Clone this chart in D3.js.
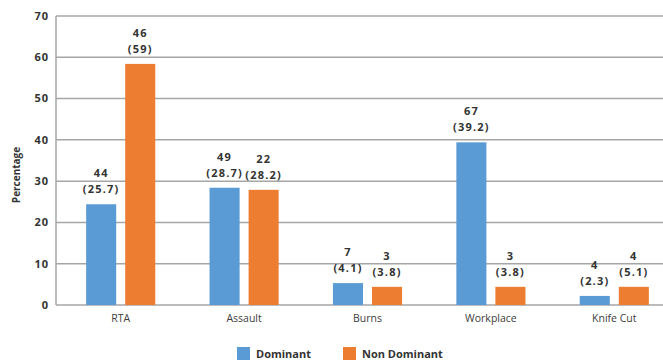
<!DOCTYPE html>
<meta charset="utf-8">
<script src="https://d3js.org/d3.v7.min.js"></script>
<style>
  body { margin: 0; background: #fff; }
  text { font-family: "Open Sans", sans-serif; fill: #333; }
</style>
<body>
<svg width="663" height="361"></svg>
<script>
    // categories and series
    var categories = ["RTA", "Assault", "Burns", "Workplace", "Knife Cut"];
    var seriesNames = ["Dominant", "Non Dominant"];
    // bar heights as drawn (percentage)
    var dominantVals    = [24.4, 28.4, 5.3, 39.4, 2.2];
    var nonDominantVals = [58.4, 27.9, 4.4, 4.4, 4.4];
    // label texts: counts and (percent)
    var dominantCounts    = ["44", "49", "7", "67", "4"];
    var dominantPcts      = ["(25.7)", "(28.7)", "(4.1)", "(39.2)", "(2.3)"];
    var nonDominantCounts = ["46", "22", "3", "3", "4"];
    var nonDominantPcts   = ["(59)", "(28.2)", "(3.8)", "(3.8)", "(5.1)"];
    var yTicks = [0, 10, 20, 30, 40, 50, 60, 70];
    var colors = ["#5b9bd5", "#ed7d31"];

    var svg = d3.select("svg");
    var W = 663;

    var y  = d3.scaleLinear().domain([0, 70]).range([305, 16]);
    var x0 = d3.scaleBand().domain(categories).range([59, 676]).paddingInner(0.44).paddingOuter(0.22);
    var x1 = d3.scaleBand().domain(seriesNames).range([0, x0.bandwidth()]).paddingInner(0.23);
    var color = d3.scaleOrdinal().domain(seriesNames).range(colors);

    // gridlines
    svg.append("g").selectAll("line").data(yTicks).enter().append("line")
        .attr("x1", 56).attr("x2", W)
        .attr("y1", function(d){ return y(d); }).attr("y2", function(d){ return y(d); })
        .attr("stroke", "#a6a6a6").attr("stroke-width", 1.5);

    // left axis line
    svg.append("line").attr("x1", 56).attr("x2", 56).attr("y1", y(70)).attr("y2", y(0))
        .attr("stroke", "#a6a6a6").attr("stroke-width", 1.5);

    // y tick labels
    svg.append("g").selectAll("text").data(yTicks).enter().append("text")
        .attr("x", 49).attr("y", function(d){ return y(d); })
        .attr("dy", "0.35em").attr("text-anchor", "end")
        .attr("font-size", "11px").attr("font-weight", "bold").attr("letter-spacing", "1px")
        .text(function(d){ return d; });

    // y title
    svg.append("text").attr("transform", "translate(20,175) rotate(-90)")
        .attr("text-anchor", "middle").attr("font-size", "10px").attr("font-weight", "bold")
        .text("Percentage");

    // rows for bars
    var rows = [];
    categories.forEach(function(c, i){
        rows.push({cat: c, s: seriesNames[0], v: dominantVals[i], n: dominantCounts[i], p: dominantPcts[i]});
        rows.push({cat: c, s: seriesNames[1], v: nonDominantVals[i], n: nonDominantCounts[i], p: nonDominantPcts[i]});
    });

    svg.append("g").selectAll("rect").data(rows).enter().append("rect")
        .attr("x", function(d){ return x0(d.cat) + x1(d.s); })
        .attr("width", x1.bandwidth())
        .attr("y", function(d){ return y(d.v); })
        .attr("height", function(d){ return y(0) - y(d.v); })
        .attr("fill", function(d){ return color(d.s); });

    // value labels (count on top, percent below)
    var lab = svg.append("g").selectAll("g").data(rows).enter().append("g")
        .attr("transform", function(d){ return "translate(" + (x0(d.cat) + x1(d.s) + x1.bandwidth()/2) + "," + y(d.v) + ")"; });
    lab.append("text").attr("y", -27).attr("text-anchor", "middle")
        .attr("font-size", "11px").attr("font-weight", "bold").attr("letter-spacing", "1.2px")
        .text(function(d){ return d.n; });
    lab.append("text").attr("y", -11).attr("text-anchor", "middle")
        .attr("font-size", "11px").attr("font-weight", "bold").attr("letter-spacing", "1.2px")
        .text(function(d){ return d.p; });

    // category labels
    svg.append("g").selectAll("text").data(categories).enter().append("text")
        .attr("x", function(d){ return x0(d) + x0.bandwidth()/2; })
        .attr("y", 322).attr("text-anchor", "middle")
        .attr("font-size", "10.5px").style("fill", "#404040")
        .text(function(d){ return d; });

    // legend
    var legX = [237, 343];
    var leg = svg.append("g").selectAll("g").data(seriesNames).enter().append("g")
        .attr("transform", function(d, i){ return "translate(" + legX[i] + ",347)"; });
    leg.append("rect").attr("width", 13).attr("height", 13)
        .attr("fill", function(d){ return color(d); });
    leg.append("text").attr("x", 19).attr("y", 11)
        .attr("font-size", "11px").attr("font-weight", "bold")
        .text(function(d){ return d; });
</script>
</body>
